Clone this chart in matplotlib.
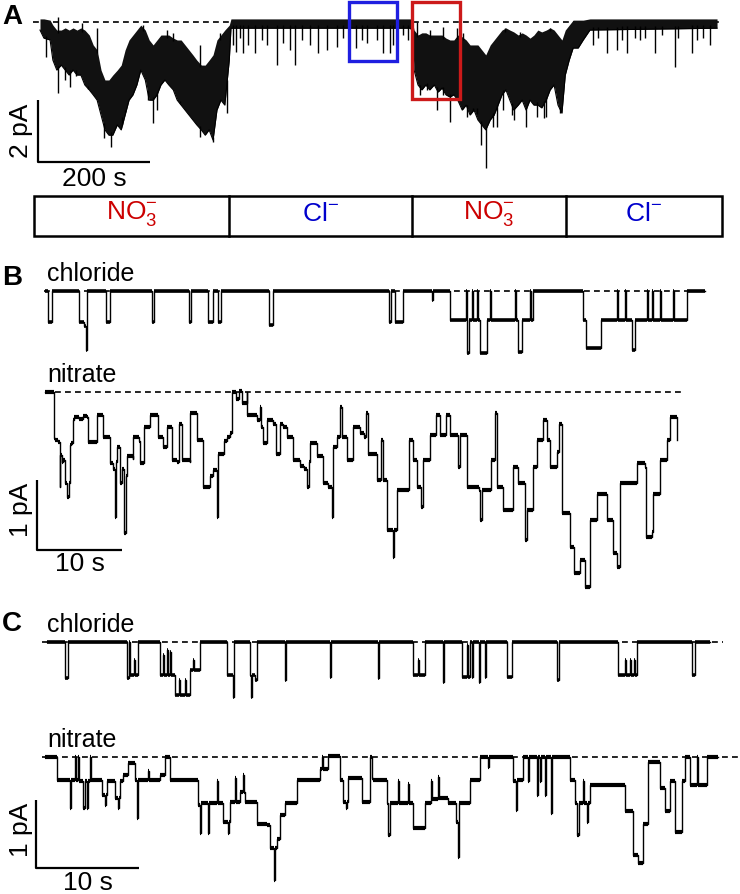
#!/usr/bin/env python3
"""Single-channel traces: chloride vs nitrate, long record (A) and two excerpts (B, C)."""
import numpy as np
import matplotlib; matplotlib.use('Agg')
import matplotlib.pyplot as plt
from matplotlib.patches import Rectangle

plt.rcParams['font.family'] = ['Liberation Sans', 'DejaVu Sans']
plt.rcParams['mathtext.fontset'] = 'custom'
plt.rcParams['mathtext.rm'] = 'Liberation Sans'

# ---- panel A: long record (s, pA); band = (t, upper, lower) envelope of the noisy trace
a_band = [(0, 0.1, -0.26), (7, 0.1, -0.52), (18, 0.06, -0.58), (23, -0.1, -1.23), (30, -0.26, -1.55),
          (38, -0.26, -1.39), (45, -0.19, -1.55), (52, -0.26, -1.71), (59, -0.19, -1.55), (66, -0.26, -1.71),
          (73, -0.19, -1.71), (80, -0.26, -2.03), (88, -0.42, -2.19), (95, -0.74, -2.35), (102, -0.9, -2.52),
          (109, -1.55, -3.0), (116, -1.87, -3.48), (123, -1.87, -3.65), (130, -1.71, -3.65), (138, -1.55, -3.32),
          (145, -1.39, -3.48), (152, -0.9, -3.0), (159, -0.58, -2.52), (166, -0.42, -2.35), (173, -0.26, -2.03),
          (180, -0.1, -1.55), (188, -0.26, -1.87), (195, -0.58, -2.52), (202, -0.74, -2.52), (209, -0.58, -2.35),
          (216, -0.42, -2.03), (223, -0.42, -1.87), (230, -0.42, -2.03), (238, -0.52, -2.19), (245, -0.58, -2.52),
          (252, -0.58, -2.68), (259, -0.74, -2.84), (266, -0.9, -3.0), (273, -1.06, -3.16), (280, -1.23, -3.32),
          (288, -1.39, -3.48), (295, -1.39, -3.65), (302, -1.23, -3.48), (309, -1.06, -3.81), (316, -0.58, -2.84),
          (323, -0.42, -2.52), (330, -0.26, -2.68), (338, -0.1, -1.23), (341, 0.1, -0.2),
          (661, 0.1, -0.2), (664, 0.1, -0.26), (668, -0.26, -1.55), (675, -0.42, -2.03), (682, -0.35, -2.19),
          (689, -0.35, -2.03), (696, -0.42, -2.19), (704, -0.42, -2.03), (711, -0.42, -2.26), (718, -0.42, -2.13),
          (725, -0.52, -2.35), (732, -0.58, -2.42), (739, -0.58, -2.35), (746, -0.42, -2.52), (754, -0.48, -2.84),
          (761, -0.58, -2.68), (768, -0.74, -3.0), (775, -0.74, -2.84), (782, -0.74, -3.16), (789, -0.9, -3.32),
          (796, -1.06, -3.48), (804, -0.74, -3.16), (811, -0.58, -3.0), (818, -0.42, -2.68), (825, -0.26, -2.35),
          (832, -0.19, -2.19), (839, -0.26, -2.52), (846, -0.32, -2.84), (854, -0.42, -2.68), (861, -0.35, -2.52),
          (868, -0.42, -2.84), (875, -0.52, -2.52), (882, -0.42, -2.68), (889, -0.26, -2.68), (896, -0.32, -2.77),
          (904, -0.26, -2.52), (911, -0.19, -2.19), (918, -0.26, -2.03), (925, -0.42, -2.68), (932, -0.58, -2.94),
          (938, -0.26, -1.71), (945, -0.1, -1.23), (952, 0.06, -0.84), (961, 0.06, -0.84), (970, 0.06, -0.58),
          (982, 0.1, -0.26), (1209, 0.1, -0.2)]
# brief downward excursions (t, deepest current)
a_spikes = [(11, -1.13), (32, -2.29), (45, -1.87), (54, -2.1), (64, -1.74), (86, -2.16), (114, -3.74),
            (127, -4.03), (146, -3.06), (152, -2.84), (193, -2.52), (202, -3.26), (209, -2.84), (250, -2.61),
            (277, -3.16), (286, -3.71), (309, -3.87), (334, -2.94), (345, -0.74), (350, -0.97), (357, -0.52),
            (363, -1.0), (371, -0.74), (384, -1.0), (396, -0.58), (405, -0.74), (423, -1.39), (434, -0.68),
            (446, -0.9), (455, -1.39), (468, -0.58), (482, -0.74), (496, -1.0), (513, -0.9), (530, -0.81),
            (541, -0.52), (564, -0.84), (575, -0.58), (584, -0.68), (602, -0.58), (613, -1.0), (625, -1.0),
            (630, -0.74), (648, -0.42), (657, -0.58), (679, -2.35), (691, -2.19), (709, -2.84), (720, -2.35),
            (732, -3.23), (763, -3.06), (773, -2.84), (780, -2.77), (788, -3.97), (796, -4.71), (809, -3.39),
            (816, -3.39), (827, -2.84), (843, -3.0), (846, -3.16), (868, -3.39), (888, -3.06), (900, -3.1),
            (904, -3.06), (929, -2.94), (988, -0.74), (997, -0.52), (1013, -1.0), (1030, -0.9), (1039, -0.58),
            (1048, -1.0), (1063, -0.52), (1072, -0.58), (1080, -0.52), (1098, -1.0), (1111, -0.42), (1134, -1.45),
            (1139, -0.52), (1164, -1.0), (1173, -0.58), (1184, -0.52), (1196, -0.74)]
# brief upward excursions during nitrate (t, highest current)
a_up_spikes = [(32, 0.16), (75, -0.03), (102, -0.19), (184, -0.1), (227, -0.26), (238, -0.35), (286, -0.74),
               (321, -0.35), (673, 0.0), (696, -0.26), (720, -0.16), (745, -0.19), (755, -0.35), (830, -0.19),
               (857, -0.32), (911, -0.19)]
solution_edges = [-10.7, 337.5, 664, 939, 1218]
solution_labels = [r'NO$_3^{-}$', r'Cl$^{-}$', r'NO$_3^{-}$', r'Cl$^{-}$']
solution_colors = ['#cc0000', '#0000cc', '#cc0000', '#0000cc']
excerpt_boxes = [(552, 637, -1.26, '#1f1fe0'), (664, 750, -2.48, '#cc1a1a')]   # (t0, t1, lowest pA, colour)

# ---- panels B and C: (time s, current pA) levels, each held until the next entry
b_chloride = [(0, 0), (0.35, -0.44), (0.82, 0), (4.0, -0.44), (4.59, -0.5), (4.82, -0.84), (4.94, 0),
              (7.18, -0.44), (7.65, 0), (12.59, -0.44), (12.82, 0), (16.94, -0.44), (17.18, 0), (19.18, -0.44),
              (19.76, 0), (20.35, -0.44), (20.71, 0), (26.35, -0.49), (26.82, 0), (40.47, -0.44), (40.71, 0),
              (41.18, -0.44), (42.12, 0), (45.53, -0.13), (45.65, 0), (47.65, -0.41), (49.53, 0), (49.65, -0.89),
              (49.88, -0.41), (50.24, 0), (50.35, -0.41), (50.82, 0), (50.94, -0.41), (51.18, -0.89), (52.0, -0.41),
              (52.35, 0), (52.47, -0.41), (55.29, 0), (55.41, -0.41), (55.65, -0.87), (56.12, -0.41), (57.06, 0),
              (57.18, -0.41), (57.41, 0), (63.29, -0.41), (63.65, -0.81), (65.41, -0.41), (67.29, 0), (67.41, -0.41),
              (68.24, 0), (68.35, -0.41), (69.06, -0.84), (69.41, -0.41), (70.82, 0), (70.94, -0.41), (71.41, 0),
              (71.53, -0.41), (72.35, 0), (72.47, -0.41), (73.88, 0), (74.0, -0.41), (75.53, 0), (77.65, 0)]
b_nitrate = [(0, 0), (1.0, 0), (1.06, -0.66), (1.2, -0.68), (1.5, -0.72), (1.76, -1.35), (1.8, -0.9), (2.0, -1.0),
             (2.16, -0.97), (2.3, -1.3), (2.55, -1.5), (2.8, -1.3), (2.95, -0.75), (3.02, -0.73), (3.3, -0.4),
             (3.41, -0.35), (4.0, -0.38), (4.5, -0.34), (4.98, -0.36), (5.0, -0.71), (5.9, -0.72), (6.08, -0.33),
             (6.8, -0.35), (6.86, -0.64), (7.6, -0.7), (7.65, -1.02), (8.0, -1.1), (8.24, -1.78), (8.3, -1.0),
             (8.43, -0.78), (8.8, -1.3), (9.0, -1.1), (9.33, -2.02), (9.5, -1.2), (9.61, -0.92), (10.3, -0.95),
             (10.39, -0.64), (11.1, -0.7), (11.18, -1.02), (11.6, -1.0), (11.65, -0.5), (12.3, -0.45), (12.35, -0.33),
             (13.3, -0.35), (13.33, -0.64), (13.9, -0.78), (14.3, -0.5), (14.9, -0.97), (15.5, -1.0), (15.8, -0.45),
             (16.08, -0.97), (17.0, -1.0), (17.06, -0.3), (17.9, -0.32), (17.92, -0.69), (18.6, -0.75), (18.63, -1.35),
             (19.4, -1.2), (19.8, -1.11), (20.2, -1.78), (20.39, -0.88), (21.0, -0.7), (21.37, -0.64), (21.76, -0.59),
             (21.96, 0), (22.5, -0.1), (22.8, 0.02), (23.2, -0.15), (23.73, 0), (23.8, -0.33), (24.12, -0.33),
             (24.9, -0.4), (25.29, -0.21), (25.4, -0.5), (25.69, -0.73), (26.08, -0.4), (26.86, -0.45), (27.2, -0.88),
             (27.6, -0.45), (28.0, -0.5), (28.43, -0.64), (29.22, -0.97), (30.0, -1.05), (30.5, -1.1), (30.78, -1.35),
             (31.0, -1.0), (31.18, -0.73), (31.96, -0.92), (32.75, -1.3), (33.3, -1.35), (33.73, -1.78), (33.92, -0.78),
             (34.31, -0.64), (34.71, -0.21), (34.9, -0.64), (35.49, -0.97), (36.27, -0.5), (37.06, -0.59), (37.5, -0.64),
             (37.8, -0.3), (38.04, -0.88), (39.02, -1.26), (39.5, -0.69), (39.8, -1.26), (40.2, -1.97), (40.98, -2.35),
             (41.1, -1.97), (41.37, -1.4), (42.55, -1.4), (42.8, -0.69), (43.3, -0.97), (43.73, -1.35), (44.2, -1.64),
             (44.51, -0.97), (45.29, -0.61), (46.0, -0.33), (46.5, -0.61), (47.2, -0.33), (47.6, -0.61), (48.04, -0.61),
             (48.63, -1.07), (48.8, -0.61), (49.61, -0.61), (49.7, -1.35), (51.0, -1.4), (51.18, -1.83), (51.4, -1.4),
             (52.35, -1.4), (52.5, -0.97), (52.94, -0.3), (53.14, -1.35), (53.92, -1.69), (54.9, -1.69), (55.0, -1.07),
             (55.69, -1.3), (56.47, -2.11), (56.67, -1.69), (57.45, -1.07), (57.84, -0.69), (58.6, -0.4), (59.0, -0.69),
             (59.41, -1.07), (60.2, -0.85), (60.51, -0.45), (60.78, -1.73), (61.76, -2.21), (62.2, -2.59), (62.94, -2.4),
             (63.5, -2.78), (64.12, -1.83), (64.9, -1.45), (66.08, -1.83), (66.86, -2.3), (67.3, -2.5), (67.65, -1.3),
             (69.61, -1.3), (69.7, -1.02), (70.59, -1.07), (70.7, -2.07), (71.4, -2.0), (71.57, -1.45), (72.35, -0.97),
             (73.14, -0.69), (73.5, -0.35), (74.31, -0.69)]
c_chloride = [(0.19, 0), (1.94, -0.53), (2.23, 0), (7.96, -0.53), (8.16, 0), (8.25, -0.49), (8.64, -0.26), (8.74, -0.49),
              (9.03, 0), (11.17, -0.49), (11.46, -0.19), (11.55, -0.49), (11.84, -0.12), (11.94, -0.49), (12.14, -0.15),
              (12.23, -0.49), (12.62, -0.78), (13.01, -0.56), (13.11, -0.78), (13.59, -0.56), (13.69, -0.78),
              (14.08, -0.41), (14.37, -0.26), (14.47, -0.41), (15.05, 0), (17.67, -0.49), (18.25, -0.81), (18.35, 0),
              (19.9, -0.49), (20.0, -0.81), (20.1, -0.49), (20.39, -0.56), (20.58, 0), (23.3, -0.56), (23.4, 0),
              (27.67, -0.51), (27.77, 0), (32.33, -0.53), (32.43, 0), (35.73, -0.49), (36.21, -0.26), (36.31, -0.49),
              (36.89, 0), (38.64, -0.59), (38.74, 0), (40.49, -0.51), (40.97, -0.04), (41.07, -0.51), (41.26, 0),
              (41.46, -0.51), (41.55, 0), (42.14, -0.59), (42.23, 0), (42.72, -0.51), (42.82, 0), (44.85, -0.51),
              (45.34, 0), (49.71, -0.56), (49.9, 0), (55.63, -0.49), (56.31, -0.26), (56.41, -0.49), (56.8, -0.26),
              (56.89, -0.49), (57.18, -0.26), (57.28, -0.49), (57.48, 0), (62.82, -0.49), (63.11, 0), (64.56, 0)]
c_nitrate = [(0, 0), (1.13, -0.34), (2.43, -0.75), (2.55, -0.34), (2.91, 0), (2.97, -0.34), (3.24, 0), (3.3, -0.36),
             (3.72, -0.75), (3.85, -0.36), (4.05, -0.75), (4.21, -0.36), (4.37, 0), (4.45, -0.34), (5.5, -0.56),
             (5.8, -0.71), (5.9, -0.56), (5.99, -0.36), (6.8, -0.61), (7.12, -0.75), (7.2, -0.61), (7.28, -0.36),
             (7.61, -0.26), (8.09, -0.09), (8.74, -0.34), (8.9, -0.9), (9.0, -0.34), (10.0, -0.2), (10.05, -0.34),
             (11.17, -0.26), (11.65, 0), (12.14, -0.34), (14.89, -0.71), (15.05, -1.12), (15.15, -0.68), (15.86, -1.12),
             (15.95, -0.68), (16.67, -0.36), (16.75, -0.68), (17.31, -0.95), (17.8, -1.12), (17.9, -0.95), (17.96, -0.66),
             (18.4, -0.31), (18.5, -0.66), (18.93, -0.51), (19.2, -0.26), (19.3, -0.51), (19.42, -0.66), (20.55, -0.98),
             (21.52, -1.0), (21.84, -1.34), (22.23, -1.81), (22.3, -1.34), (22.49, -1.2), (22.82, -0.85), (23.3, -0.68),
             (24.43, -0.34), (26.7, -0.17), (26.9, 0), (27.0, -0.17), (27.51, 0.02), (28.64, -0.34), (28.96, -0.66),
             (29.2, -0.75), (29.3, -0.66), (29.45, -0.31), (30.74, -0.66), (31.55, 0), (31.7, -0.31), (31.88, -0.34),
             (33.17, -0.68), (33.33, -1.15), (33.45, -0.68), (34.3, -0.36), (34.4, -0.68), (35.2, -0.4), (35.3, -0.68),
             (35.74, -1.05), (36.89, -0.68), (37.5, -0.35), (37.6, -0.62), (38.2, -0.3), (38.3, -0.6), (39.13, -0.68),
             (39.94, -0.95), (40.1, -1.47), (40.2, -0.68), (41.23, -0.34), (42.2, 0), (43.01, -0.14), (43.1, 0),
             (45.47, -0.36), (45.7, -0.78), (45.79, -0.34), (46.44, 0), (46.93, -0.36), (47.0, 0), (47.73, -0.56),
             (47.85, 0), (48.06, -0.36), (48.15, 0), (48.5, -0.56), (48.6, 0), (49.13, -0.83), (49.19, 0),
             (50.97, -0.34), (51.46, -0.68), (51.68, -1.15), (51.8, -0.68), (52.27, -0.36), (52.35, -0.68),
             (52.59, -0.95), (52.7, -0.68), (52.91, -0.41), (56.31, -0.8), (57.12, -1.44), (57.61, -1.56),
             (58.09, -0.98), (58.58, -0.07), (59.71, -0.46), (60.19, -0.8), (60.68, -0.36), (61.17, -1.1),
             (61.81, -0.36), (62.14, 0), (62.62, -0.41), (63.27, 0), (63.4, -0.41), (64.24, 0), (65.37, 0)]

W, H = 740, 894
fig = plt.figure(figsize=(W / 100, H / 100), dpi=100)


def trace_axes(name, x0, y0, px_per_s, px_per_pA):
    # full-figure transparent axes: t=0 at pixel column x0, 0 pA at pixel row y0
    ax = fig.add_axes([0, 0, 1, 1], label=name)
    ax.set_xlim(-x0 / px_per_s, (W - x0) / px_per_s)
    ax.set_ylim(-(H - y0) / px_per_pA, y0 / px_per_pA)
    ax.axis('off')
    ax.patch.set_alpha(0)
    return ax


def baseline(ax, t0, t1):
    ax.plot([t0, t1], [0, 0], color='k', lw=1.2, dashes=(3.5, 2.5), zorder=1)


def step_trace(ax, data, band=2.6):
    # thin vertical transitions, thicker (noisy) dwell levels
    t, i = (np.array(v) for v in zip(*data))
    ax.plot(t, i, color='k', lw=1.0, drawstyle='steps-post', zorder=2)
    ax.hlines(i[:-1], t[:-1], t[1:], color='k', lw=band, zorder=2)


def scale_bar(ax, t0, i0, dt, di):
    ax.plot([t0, t0, t0 + dt], [i0 + di, i0, i0], color='k', lw=1.6, solid_capstyle='butt', zorder=3)


# ---- A
axA = trace_axes('A', 40, 22, 0.56, 31)
baseline(axA, -12, 1214)
tb, up, lo = (np.array(v) for v in zip(*a_band))
axA.fill_between(tb, lo, up, color='#111111', lw=0, zorder=2)
axA.plot(tb, lo, color='k', lw=0.8, zorder=2)
ts, ds = (np.array(v) for v in zip(*a_spikes))
axA.vlines(ts, np.interp(ts, tb, lo) + 0.1, ds, color='k', lw=1.0, zorder=2)
tu, hu = (np.array(v) for v in zip(*a_up_spikes))
axA.vlines(tu, np.interp(tu, tb, up) - 0.1, hu, color='k', lw=1.0, zorder=2)
for t0, t1, ilow, col in excerpt_boxes:
    axA.add_patch(Rectangle((t0, ilow), t1 - t0, 0.65 - ilow, fill=False, ec=col, lw=2.4, zorder=4))
scale_bar(axA, -4, -4.5, 200, 2)
itop, ibot = -5.61, -6.9
axA.add_patch(Rectangle((solution_edges[0], ibot), solution_edges[-1] - solution_edges[0], itop - ibot,
                        fill=False, ec='k', lw=1.8))
for e in solution_edges[1:-1]:
    axA.plot([e, e], [ibot, itop], color='k', lw=1.8)
for k, (lab, col) in enumerate(zip(solution_labels, solution_colors)):
    axA.text((solution_edges[k] + solution_edges[k + 1]) / 2, (itop + ibot) / 2 + 0.05, lab,
             color=col, fontsize=19, ha='center', va='center')

# ---- B
axBc = trace_axes('Bc', 45, 291, 8.5, 70)
baseline(axBc, -0.1, 77.6)
step_trace(axBc, b_chloride)
axBn = trace_axes('Bn', 45, 392, 8.5, 70)
baseline(axBn, 0, 75.1)
step_trace(axBn, b_nitrate, band=3.0)
scale_bar(axBn, -0.94, -2.25, 10, 1)

# ---- C
axCc = trace_axes('Cc', 45, 642, 10.3, 68)
baseline(axCc, -0.3, 65.8)
step_trace(axCc, c_chloride)
axCn = trace_axes('Cn', 45, 757, 10.3, 68)
baseline(axCn, -0.3, 67.5)
step_trace(axCn, c_nitrate, band=3.0)
scale_bar(axCn, -0.87, -1.63, 10, 1)

# ---- labels, placed in pixel units on a top canvas
cv = fig.add_axes([0, 0, 1, 1], label='canvas')
cv.set_xlim(0, W); cv.set_ylim(H, 0); cv.axis('off'); cv.patch.set_alpha(0)
for lab, y in [('A', 17), ('B', 278), ('C', 624)]:
    cv.text(2, y, lab, fontsize=20, fontweight='bold', ha='left', va='center')
for lab, y in [('chloride', 281), ('nitrate', 382), ('chloride', 632), ('nitrate', 747)]:
    cv.text(47, y, lab, fontsize=18, ha='left', va='baseline')
for lab, x, y in [('200 s', 94, 179), ('10 s', 80, 564), ('10 s', 88, 883)]:
    cv.text(x, y, lab, fontsize=19, ha='center', va='center')
for lab, y in [('2 pA', 131), ('1 pA', 510), ('1 pA', 830)]:
    cv.text(21, y, lab, fontsize=19, ha='center', va='center', rotation=90)

fig.savefig('out.png', dpi=100)
print("Saved out.png")
